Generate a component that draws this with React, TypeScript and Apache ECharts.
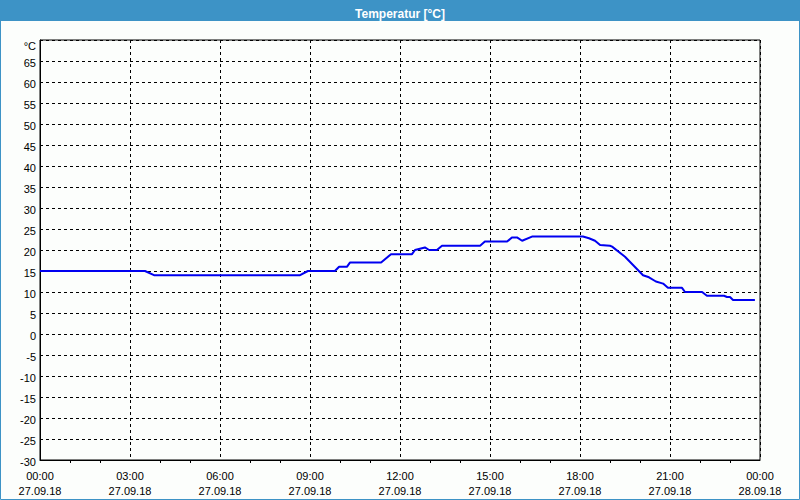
import React, { useEffect, useRef } from "react";
import * as echarts from "echarts";

const TITLE = "Temperatur [°C]";
const hours = [
  0, 3.5, 3.8, 8.67, 8.93, 9.83, 9.97, 10.23, 10.33, 11.37, 11.7, 12.4, 12.5,
  12.83, 12.97, 13.23, 13.4, 14.67, 14.83, 15.57, 15.73, 15.9, 16.07, 16.4,
  18.1, 18.3, 18.5, 18.67, 19.0, 19.07, 19.5, 19.8, 20.1, 20.3, 20.53, 20.77,
  20.93, 21.4, 21.5, 22.07, 22.23, 22.8, 22.9, 23.0, 23.1, 23.83,
];
const temps = [
  15, 15, 14, 14, 15, 15, 16, 16, 17, 17, 19, 19, 20,
  20.6, 20, 20, 21, 21, 22, 22, 23, 23, 22.2, 23.2,
  23.2, 22.8, 22.2, 21.2, 21, 20.8, 18.4, 16.2, 14, 13.5, 12.5, 12,
  11, 11, 10, 10, 9.1, 9.1, 8.8, 8.8, 8.1, 8.1,
];
const dateLabels = ["27.09.18", "28.09.18"];

export default function App() {
  const ref = useRef<HTMLDivElement>(null);
  useEffect(() => {
    document.body.style.margin = "0";
    const chart = echarts.init(ref.current!, undefined, { renderer: "svg" });
    const font = "Liberation Sans";
    chart.setOption({
      animation: false,
      backgroundColor: "#fcfefc",
      title: {
        text: TITLE,
        left: "center",
        top: 3,
        textStyle: { color: "#ffffff", fontSize: 12, fontWeight: "bold", fontFamily: font },
      },
      graphic: [
        { type: "rect", z: -1, shape: { x: 0, y: 0, width: 800, height: 21 }, style: { fill: "#3d93c6" } },
        { type: "rect", z: 100, shape: { x: 0.5, y: 0.5, width: 799, height: 499 }, style: { fill: "none", stroke: "#3d93c6", lineWidth: 1 } },
      ],
      grid: { left: 40, right: 40, top: 40, bottom: 40, show: true, borderColor: "#000", borderWidth: 1 },
      xAxis: {
        type: "value",
        min: 0,
        max: 24,
        interval: 3,
        axisLine: { show: true, onZero: false, lineStyle: { color: "#000" } },
        axisTick: { show: false },
        minorTick: { show: true, splitNumber: 3, length: 3, lineStyle: { color: "#000" } },
        splitLine: { show: true, lineStyle: { color: "#000", type: [3, 3] } },
        axisLabel: {
          color: "#000",
          fontSize: 11,
          fontFamily: font,
          lineHeight: 15,
          margin: 8,
          formatter: (v: number) => {
            const h = v % 24;
            const hh = (h < 10 ? "0" : "") + h + ":00";
            return hh + "\n" + (v >= 24 ? dateLabels[1] : dateLabels[0]);
          },
        },
      },
      yAxis: {
        type: "value",
        min: -30,
        max: 70,
        interval: 5,
        axisLine: { show: true, onZero: false, lineStyle: { color: "#000" } },
        axisTick: { show: false },
        splitLine: { show: true, lineStyle: { color: "#000", type: [3, 3] } },
        axisLabel: {
          color: "#000",
          fontSize: 11,
          fontFamily: font,
          margin: 4,
          formatter: (v: number) => (v === 70 ? "{u|°C}" : "{n|" + v + "}"),
          rich: {
            u: { fontSize: 11, fontFamily: font, color: "#000", padding: [12, 0, 0, 0] },
            n: { fontSize: 11, fontFamily: font, color: "#000", padding: [3, 0, 0, 0] },
          },
        },
      },
      series: [
        {
          type: "line",
          data: hours.map((h, i) => [h, temps[i]]),
          showSymbol: false,
          lineStyle: { color: "#0000f0", width: 2 },
          itemStyle: { color: "#0000f0" },
        },
      ],
    });
    return () => chart.dispose();
  }, []);
  return <div ref={ref} style={{ width: 800, height: 500 }} />;
}
